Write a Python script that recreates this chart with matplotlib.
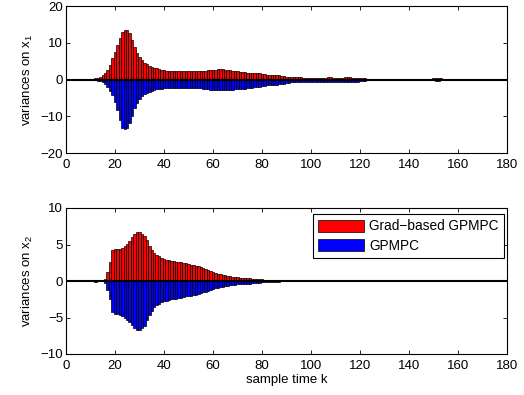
import matplotlib
matplotlib.use("Agg")
import matplotlib.pyplot as plt
import numpy as np

plt.rcParams['font.family'] = ['Liberation Sans', 'DejaVu Sans']
plt.rcParams['font.size'] = 9.5
plt.rcParams['mathtext.fontset'] = 'custom'
plt.rcParams['mathtext.rm'] = 'Liberation Sans'
plt.rcParams['mathtext.it'] = 'Liberation Sans'

k = np.arange(1, 181)

# variances on x1
grad_x1 = [
    0, 0, 0, 0, 0, 0, 0, 0.02, 0.05, 0.1,
    0.2, 0.3, 0.5, 0.8, 1.2, 1.8, 2.7, 4.0, 5.8, 7.5,
    9.3, 11.2, 12.8, 13.6, 13.5, 12.6, 10.8, 8.9, 7.3, 6.1,
    5.3, 4.6, 4.1, 3.7, 3.4, 3.2, 3.0, 2.8, 2.7, 2.5,
    2.4, 2.4, 2.3, 2.3, 2.3, 2.2, 2.2, 2.2, 2.2, 2.2,
    2.2, 2.2, 2.2, 2.2, 2.3, 2.3, 2.4, 2.5, 2.6, 2.7,
    2.7, 2.8, 2.8, 2.8, 2.7, 2.6, 2.5, 2.4, 2.3, 2.2,
    2.1, 2.0, 2.0, 1.9, 1.9, 1.8, 1.8, 1.8, 1.7, 1.6,
    1.4, 1.3, 1.2, 1.2, 1.2, 1.2, 1.1, 1.0, 0.9, 0.8,
    0.8, 0.7, 0.7, 0.6, 0.6, 0.6, 0.5, 0.5, 0.5, 0.5,
    0.5, 0.5, 0.5, 0.5, 0.5, 0.5, 0.6, 0.6, 0.5, 0.5,
    0.5, 0.5, 0.5, 0.6, 0.7, 0.6, 0.5, 0.5, 0.4, 0.4,
    0.3, 0.3, 0.2, 0.2, 0.2, 0.1, 0.1, 0.1, 0.1, 0.1,
    0.1, 0.1, 0.1, 0.1, 0.1, 0.1, 0.1, 0.1, 0.1, 0.1,
    0.1, 0.1, 0.1, 0.1, 0.1, 0.1, 0.1, 0.1, 0.2, 0.3,
    0.4, 0.4, 0.3, 0.2, 0.1, 0.1, 0.1, 0.1, 0.1, 0.05,
    0.05, 0.05, 0.05, 0.05, 0.05, 0.05, 0.05, 0.05, 0.02, 0.0,
    0, 0, 0, 0, 0, 0, 0, 0, 0, 0,
]
gpmpc_x1 = [
    0, 0, 0, 0, 0, 0, 0, 0, -0.02, -0.05,
    -0.1, -0.2, -0.3, -0.5, -0.8, -1.3, -2.0, -3.0, -4.3, -6.0,
    -8.2, -11.0, -13.2, -13.6, -13.3, -11.8, -9.8, -7.8, -6.3, -5.2,
    -4.5, -4.0, -3.6, -3.3, -3.1, -2.9, -2.7, -2.6, -2.5, -2.4,
    -2.3, -2.3, -2.3, -2.2, -2.2, -2.2, -2.2, -2.2, -2.2, -2.2,
    -2.2, -2.2, -2.3, -2.3, -2.4, -2.5, -2.6, -2.7, -2.8, -2.9,
    -2.9, -2.9, -2.9, -2.9, -2.9, -2.9, -2.8, -2.8, -2.7, -2.7,
    -2.6, -2.6, -2.5, -2.4, -2.3, -2.2, -2.1, -2.0, -2.0, -1.9,
    -1.7, -1.5, -1.4, -1.4, -1.4, -1.4, -1.3, -1.2, -1.1, -1.0,
    -0.9, -0.8, -0.8, -0.7, -0.7, -0.6, -0.6, -0.6, -0.6, -0.6,
    -0.6, -0.6, -0.6, -0.6, -0.6, -0.6, -0.6, -0.6, -0.6, -0.6,
    -0.6, -0.6, -0.6, -0.6, -0.6, -0.6, -0.6, -0.6, -0.6, -0.5,
    -0.4, -0.3, -0.2, -0.2, -0.2, -0.1, -0.1, -0.1, -0.1, -0.1,
    -0.1, -0.1, -0.1, -0.1, -0.1, -0.1, -0.1, -0.1, -0.1, -0.1,
    -0.1, -0.1, -0.1, -0.1, -0.1, -0.1, -0.1, -0.1, -0.1, -0.2,
    -0.3, -0.3, -0.2, -0.1, -0.1, -0.1, -0.1, -0.1, -0.1, -0.05,
    -0.05, -0.05, -0.05, -0.05, -0.05, -0.05, -0.05, -0.05, -0.02, 0.0,
    0, 0, 0, 0, 0, 0, 0, 0, 0, 0,
]

# variances on x2
grad_x2 = [
    0, 0, 0, 0, 0, 0, 0, 0, 0, 0,
    0, 0.05, 0, 0, 0.05, 0.3, 1.3, 2.6, 4.2, 4.4,
    4.4, 4.4, 4.5, 4.8, 5.1, 5.5, 6.0, 6.4, 6.65, 6.65,
    6.5, 6.2, 5.6, 4.8, 4.3, 3.9, 3.6, 3.4, 3.2, 3.0,
    2.9, 2.85, 2.8, 2.7, 2.65, 2.6, 2.55, 2.5, 2.4, 2.3,
    2.25, 2.2, 2.1, 2.0, 1.9, 1.75, 1.6, 1.5, 1.4, 1.2,
    1.1, 1.0, 0.9, 0.85, 0.8, 0.7, 0.65, 0.6, 0.55, 0.5,
    0.45, 0.4, 0.4, 0.35, 0.35, 0.3, 0.3, 0.3, 0.25, 0.25,
    0.2, 0.2, 0.15, 0.15, 0.1, 0.1, 0.08, 0.06, 0.05, 0.04,
    0.03, 0.03, 0.02, 0.02, 0.02, 0.02, 0.02, 0.02, 0.02, 0.02,
    0.02, 0.02, 0.02, 0.02, 0.02, 0.02, 0.02, 0.02, 0.02, 0.02,
    0.02, 0.02, 0.02, 0.02, 0.02, 0.02, 0.02, 0.02, 0.02, 0.02,
    0.02, 0.02, 0.02, 0.02, 0.02, 0.02, 0.02, 0.02, 0.02, 0.02,
    0.02, 0.02, 0.02, 0.02, 0.02, 0.02, 0.02, 0.02, 0.02, 0.02,
    0.02, 0.02, 0.02, 0.02, 0.02, 0.02, 0.02, 0.02, 0.02, 0.02,
    0.02, 0.02, 0.02, 0.02, 0.02, 0.02, 0.02, 0.02, 0.02, 0.02,
    0.02, 0.02, 0.02, 0.02, 0.02, 0.02, 0.02, 0.02, 0.02, 0.02,
    0.02, 0.02, 0.02, 0.02, 0.02, 0.02, 0.02, 0.02, 0.02, 0.02,
]
gpmpc_x2 = [
    0, 0, 0, 0, 0, 0, 0, 0, 0, 0,
    0, -0.12, 0, 0, -0.05, -0.3, -1.2, -2.5, -4.2, -4.5,
    -4.5, -4.6, -4.8, -5.0, -5.3, -5.6, -6.0, -6.4, -6.65, -6.65,
    -6.5, -6.1, -5.4, -4.7, -4.1, -3.6, -3.3, -3.1, -2.9, -2.8,
    -2.7, -2.6, -2.5, -2.45, -2.4, -2.35, -2.3, -2.2, -2.1, -2.05,
    -2.0, -1.9, -1.85, -1.75, -1.65, -1.55, -1.5, -1.4, -1.3, -1.1,
    -0.95, -0.9, -0.85, -0.8, -0.7, -0.65, -0.6, -0.55, -0.5, -0.45,
    -0.45, -0.4, -0.4, -0.35, -0.35, -0.3, -0.3, -0.25, -0.25, -0.2,
    -0.2, -0.15, -0.15, -0.1, -0.1, -0.1, -0.08, -0.06, -0.05, -0.04,
    -0.03, -0.03, -0.02, -0.02, -0.02, -0.02, -0.02, -0.02, -0.02, -0.02,
    -0.02, -0.02, -0.02, -0.02, -0.02, -0.02, -0.02, -0.02, -0.02, -0.02,
    -0.02, -0.02, -0.02, -0.02, -0.02, -0.02, -0.02, -0.02, -0.02, -0.02,
    -0.02, -0.02, -0.02, -0.02, -0.02, -0.02, -0.02, -0.02, -0.02, -0.02,
    -0.02, -0.02, -0.02, -0.02, -0.02, -0.02, -0.02, -0.02, -0.02, -0.02,
    -0.02, -0.02, -0.02, -0.02, -0.02, -0.02, -0.02, -0.02, -0.02, -0.02,
    -0.02, -0.02, -0.02, -0.02, -0.02, -0.02, -0.02, -0.02, -0.02, -0.02,
    -0.02, -0.02, -0.02, -0.02, -0.02, -0.02, -0.02, -0.02, -0.02, -0.02,
    -0.02, -0.02, -0.02, -0.02, -0.02, -0.02, -0.02, -0.02, -0.02, -0.02,
]

xticks = [0, 20, 40, 60, 80, 100, 120, 140, 160, 180]
yticks1 = [-20, -10, 0, 10, 20]
yticks2 = [-10, -5, 0, 5, 10]

W, H = 524, 395
fig = plt.figure(figsize=(W / 100, H / 100), dpi=100)
ax1 = fig.add_axes([66 / W, 1 - 153 / H, (507 - 66) / W, (153 - 6) / H])
ax2 = fig.add_axes([66 / W, 1 - 354 / H, (507 - 66) / W, (354 - 208) / H])

def draw(ax, red, blue, yticks, ylabel):
    ax.bar(k, red, width=1.0, color='#ff0000', edgecolor='black', linewidth=0.5,
           label='Grad\u2212based GPMPC')
    ax.bar(k, blue, width=1.0, color='#0000ff', edgecolor='black', linewidth=0.5,
           label='GPMPC')
    ax.axhline(0, color='black', linewidth=1.5)
    ax.set_xlim(0, 180)
    ax.set_ylim(yticks[0], yticks[-1])
    ax.set_xticks(xticks)
    ax.set_yticks(yticks)
    ax.tick_params(direction='in', top=True, right=True, length=3, width=0.6,
                   labelsize=9.5)
    ax.tick_params(axis='x', pad=4)
    ax.tick_params(axis='y', pad=2)
    for s in ax.spines.values():
        s.set_linewidth(0.8)
    ax.set_ylabel(ylabel, fontsize=9.5, labelpad=4)

draw(ax1, grad_x1, gpmpc_x1, yticks1, 'variances on x$_1$')
draw(ax2, grad_x2, gpmpc_x2, yticks2, 'variances on x$_2$')
ax2.set_xlabel('sample time k', fontsize=9.5, labelpad=2)

leg = ax2.legend(loc='upper right', bbox_to_anchor=(504 / W, 1 - 214 / H),
                 bbox_transform=fig.transFigure, fancybox=False, framealpha=1,
                 edgecolor='black', handlelength=3.4, handleheight=0.95,
                 borderpad=0.4, labelspacing=0.4, handletextpad=0.35,
                 borderaxespad=0, fontsize=9.8)
leg.get_frame().set_linewidth(0.8)

fig.savefig('out.png', dpi=100)
